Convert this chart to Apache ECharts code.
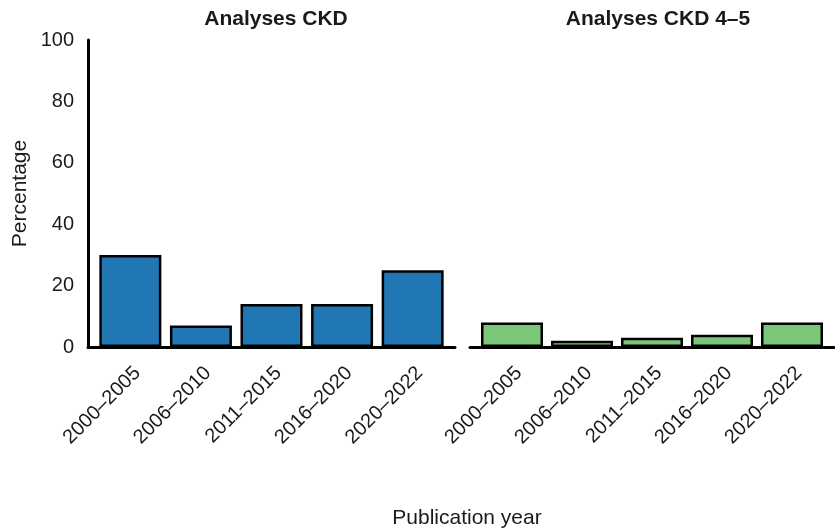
<!DOCTYPE html>
<html>
<head>
<meta charset="utf-8">
<script src="https://cdn.jsdelivr.net/npm/echarts@6/dist/echarts.min.js"></script>
<style>
html,body{margin:0;padding:0;background:#fff;}
#c{width:835px;height:531px;}
</style>
</head>
<body>
<div id="c"></div>
<script>
var categories = ['2000–2005', '2006–2010', '2011–2015', '2016–2020', '2020–2022'];
var ckdValues = [30, 7, 14, 14, 25];
var ckd45Values = [8, 2, 3, 4, 8];
var yTicks = [0, 20, 40, 60, 80, 100];
var panelTitles = ['Analyses CKD', 'Analyses CKD 4–5'];
var xTitle = 'Publication year';
var yTitle = 'Percentage';

var FONT = '"Liberation Sans", Arial, sans-serif';
var chart = echarts.init(document.getElementById('c'), null, {renderer: 'canvas'});

function toPairs(arr){ return arr.map(function(v,i){ return [i, v]; }); }

function xAxisFor(gridIndex){
  return {
    type: 'value', gridIndex: gridIndex, min: -0.6, max: 4.6,
    splitLine: {show: false},
    axisTick: {show: false},
    axisLine: {show: true, onZero: false, lineStyle: {color: '#000', width: 3}},
    axisLabel: {
      customValues: [0,1,2,3,4],
      formatter: function(v){ return categories[Math.round(v)] || ''; },
      rotate: 45, margin: 16, verticalAlign: 'top',
      color: '#1a1a1a', fontSize: 20, fontFamily: FONT
    }
  };
}

var option = {
  backgroundColor: '#fff',
  animation: false,
  title: [
    {text: panelTitles[0], left: 271, top: 4, textAlign: 'center',
     textStyle: {fontSize: 21, fontWeight: 'bold', color: '#1a1a1a', fontFamily: FONT}},
    {text: panelTitles[1], left: 653, top: 4, textAlign: 'center',
     textStyle: {fontSize: 21, fontWeight: 'bold', color: '#1a1a1a', fontFamily: FONT}},
    {text: xTitle, left: 462, top: 503, textAlign: 'center',
     textStyle: {fontSize: 21, fontWeight: 'normal', color: '#1a1a1a', fontFamily: FONT}}
  ],
  grid: [
    {left: 88, top: 40, width: 367, height: 307},
    {left: 470, top: 40, width: 364, height: 307}
  ],
  xAxis: [xAxisFor(0), xAxisFor(1)],
  yAxis: [
    {type: 'value', gridIndex: 0, min: 0, max: 100, interval: 20,
     name: yTitle, nameLocation: 'middle', nameGap: 57, nameRotate: 90,
     nameTextStyle: {fontSize: 21, color: '#1a1a1a', fontFamily: FONT},
     splitLine: {show: false}, axisTick: {show: false},
     axisLine: {show: true, onZero: false, lineStyle: {color: '#000', width: 3}},
     axisLabel: {margin: 14, fontSize: 20, color: '#1a1a1a', fontFamily: FONT,
       formatter: function(v){ return yTicks.indexOf(v) >= 0 ? String(v) : ''; }}},
    {type: 'value', gridIndex: 1, min: 0, max: 100, interval: 20, show: false,
     splitLine: {show: false}}
  ],
  series: [
    {type: 'bar', xAxisIndex: 0, yAxisIndex: 0, data: toPairs(ckdValues), barWidth: 62,
     itemStyle: {color: '#2077b4', borderColor: '#000', borderWidth: 2.5}},
    {type: 'bar', xAxisIndex: 1, yAxisIndex: 1, data: toPairs(ckd45Values), barWidth: 62,
     itemStyle: {color: '#7ac77a', borderColor: '#000', borderWidth: 2.5}}
  ]
};
chart.setOption(option);
</script>
</body>
</html>
